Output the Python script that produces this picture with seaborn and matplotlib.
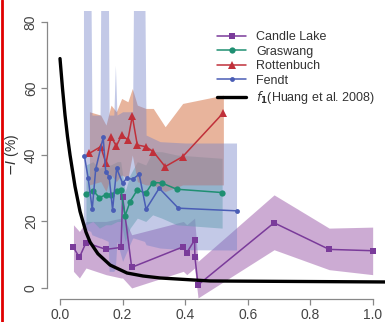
import numpy as np
import pandas as pd
import matplotlib
matplotlib.use('Agg')
import matplotlib.pyplot as plt
from matplotlib.lines import Line2D
import seaborn as sns

# values
candle_x = [0.043, 0.062, 0.083, 0.147, 0.195, 0.200, 0.229, 0.394, 0.405, 0.430, 0.431, 0.441, 0.684, 0.860, 0.999]
candle_y = [12.2, 9.2, 13.6, 11.6, 12.2, 27.5, 6.2, 12.4, 10.6, 14.4, 9.4, 0.9, 19.6, 11.6, 11.2]
candle_band_x = [0.043, 0.062, 0.083, 0.147, 0.195, 0.200, 0.229, 0.394, 0.405, 0.430, 0.441, 0.684, 0.860, 0.999]
candle_lo = [5, 3, 6, 4, 3, 3, 0, 5, 4, 6, -3, 11.5, 5.5, 4]
candle_hi = [19, 17, 20, 20, 21, 22, 16, 20, 19, 21, 8, 28, 18, 18.3]

gras_x = [0.083, 0.105, 0.126, 0.146, 0.162, 0.183, 0.194, 0.208, 0.224, 0.247, 0.274, 0.296, 0.325, 0.373, 0.518]
gras_y = [28.3, 29.3, 27.2, 28.0, 28.0, 29.3, 29.5, 21.7, 26.0, 29.5, 28.5, 31.7, 31.6, 29.7, 28.7]
gras_lo = [19, 20, 18, 19, 19, 20, 20, 14, 18, 21, 20, 22, 21, 19, 18]
gras_hi = [37, 38, 36, 37, 37, 38, 38, 29, 34, 38, 37, 41, 41, 40, 39]

rott_x = [0.094, 0.130, 0.147, 0.163, 0.180, 0.197, 0.217, 0.231, 0.247, 0.274, 0.298, 0.336, 0.392, 0.522]
rott_y = [40.5, 42.5, 37.5, 45.5, 42.7, 46.0, 44.5, 51.7, 43.0, 42.5, 41.0, 36.5, 39.5, 52.7]
rott_lo = [31, 32, 29, 34, 32, 34, 33, 40, 32, 31, 31, 29, 31, 31]
rott_hi = [53, 52, 49, 55, 53, 57, 56, 60, 55, 54, 54, 48.5, 55.5, 58]

fendt_x = [0.078, 0.090, 0.103, 0.114, 0.138, 0.146, 0.157, 0.168, 0.181, 0.200, 0.213, 0.232, 0.253, 0.275, 0.317, 0.378, 0.564]
fendt_y = [39.7, 33.0, 23.7, 35.7, 45.3, 35.0, 33.5, 23.5, 36.0, 31.5, 33.0, 32.7, 34.2, 23.7, 30.0, 24.0, 23.2]
fendt_band_x = [0.075, 0.098, 0.102, 0.128, 0.131, 0.154, 0.157, 0.172, 0.177, 0.182, 0.200, 0.232, 0.236, 0.270, 0.275, 0.320, 0.400, 0.564]
fendt_lo = [18, 17, 16, 15, 15, 14, 5, 5, 6, 14, 8, 15, 15, 14, 13, 12, 11.5, 11.4]
fendt_hi = [100, 100, 52, 52, 100, 100, 52, 52, 67, 52, 53, 53, 100, 100, 46, 44, 43.6, 43.6]

huang_x = [0.0, 0.008, 0.016, 0.024, 0.032, 0.048, 0.064, 0.083, 0.096, 0.121, 0.160, 0.214, 0.265, 0.320, 0.425, 0.480, 1.04]
huang_y = [69, 60, 52, 45.5, 40, 30.5, 23, 16.8, 13.8, 10.3, 6.9, 4.5, 3.6, 3.0, 2.4, 2.1, 1.8]

sns.set_style('white')
plt.rcParams['font.family'] = ['Liberation Sans', 'DejaVu Sans']

fig = plt.figure(figsize=(3.87, 3.22), dpi=100)
ax = fig.add_axes([0.1227, 0.0727, 0.8734, 0.892])

# uncertainty bands
ax.fill_between(candle_band_x, candle_lo, candle_hi, color='#9b59a8', alpha=0.5, lw=0)
ax.fill_between(gras_x, gras_lo, gras_hi, color='#5fb3a0', alpha=0.5, lw=0)
ax.fill_between(rott_x, rott_lo, rott_hi, color='#d9825b', alpha=0.6, lw=0)
ax.fill_between(fendt_band_x, fendt_lo, fendt_hi, color='#7080c8', alpha=0.42, lw=0)

series = [
    ('Candle Lake', candle_x, candle_y, '#7a3b9a', 's', 5),
    ('Graswang', gras_x, gras_y, '#1f8f72', 'o', 4.5),
    ('Rottenbuch', rott_x, rott_y, '#c0303a', '^', 6),
    ('Fendt', fendt_x, fendt_y, '#4a5db5', 'o', 3.5),
]
for name, xs, ys, col, mk, ms in series:
    df = pd.DataFrame({'x': xs, 'y': ys})
    sns.lineplot(data=df, x='x', y='y', ax=ax, color=col, marker=mk, markersize=ms,
                 markeredgewidth=0, lw=1.1, sort=False, estimator=None, label=name)

df = pd.DataFrame({'x': huang_x, 'y': huang_y})
sns.lineplot(data=df, x='x', y='y', ax=ax, color='black', lw=2.4, sort=False,
             estimator=None, label=r'$f_\mathbf{1}$(Huang et al. 2008)')

ax.set_xlim(-0.04, 1.04)
ax.set_ylim(-3.2, 83.2)
ax.set_xticks([0.0, 0.2, 0.4, 0.6, 0.8, 1.0])
ax.set_xticklabels(['0.0', '0.2', '0.4', '0.6', '0.8', '1.0'])
ax.set_yticks([0, 20, 40, 60, 80])
ax.set_yticklabels(['0', '20', '40', '60', '80'], rotation=90, va='center')
ax.set_xlabel('')
ax.set_ylabel(r'$-I$ (%)', fontsize=10, color='#333333', labelpad=2)

for s in ['top', 'right']:
    ax.spines[s].set_visible(False)
ax.spines['left'].set_bounds(0, 80)
ax.spines['bottom'].set_bounds(0, 1)
for s in ['left', 'bottom']:
    ax.spines[s].set_color('#888888')
    ax.spines[s].set_linewidth(0.9)
ax.tick_params(axis='both', length=4, width=0.9, color='#888888', labelsize=10,
               labelcolor='#444444', pad=3, direction='out', left=True, bottom=True)

ax.legend(loc='upper left', bbox_to_anchor=(206 / 387, 1 - 20 / 322),
          bbox_transform=fig.transFigure, frameon=False, fontsize=9,
          labelspacing=0.2, handlelength=2.3, handletextpad=0.8, labelcolor='#333333')

# red frame edge on the left of the slide
fig.add_artist(Line2D([0.006, 0.006], [0, 1], transform=fig.transFigure, color='#e00000', lw=2))

fig.savefig('out.png', dpi=100)
